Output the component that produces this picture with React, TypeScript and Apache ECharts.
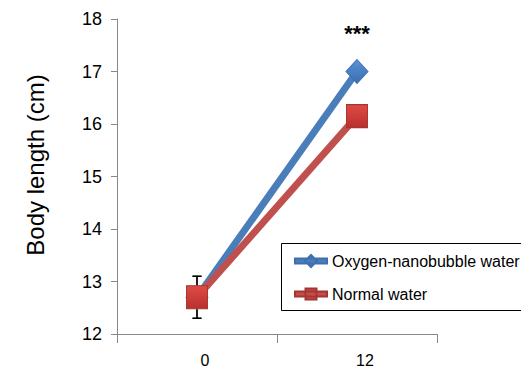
import React, { useEffect, useRef } from "react";
import * as echarts from "echarts";

const categories = ["0", "12"];
const oxygenValues = [12.7, 17.0];
const normalValues = [12.7, 16.15];
const oxygenErrors = [0.4, 0.12];
const normalErrors = [0.4, 0.12];
const yTicks = { min: 12, max: 18, interval: 1 };
const seriesNames = ["Oxygen-nanobubble water", "Normal water"];
const significance = ["", "***"];
const yTitle = "Body length (cm)";

const BLUE = "#4a7ebb";
const RED = "#c0504d";
const FONT = "Liberation Sans, Arial, sans-serif";

const ICON_DIAMOND = "path://M0 3.5H32V8.5H0Z M16 0L22 6L16 12L10 6Z";
const ICON_SQUARE = "path://M0 3.5H32V8.5H0Z M10.5 0.5H21.5V11.5H10.5Z";

export default function App() {
  const ref = useRef<HTMLDivElement>(null);
  useEffect(() => {
    document.body.style.margin = "0";
    const chart = echarts.init(ref.current!, undefined, { renderer: "svg" });
    const errData: any[] = [];
    categories.forEach((c, i) => {
      errData.push([i, oxygenValues[i], oxygenErrors[i]]);
      errData.push([i, normalValues[i], normalErrors[i]]);
    });
    chart.setOption({
      animation: false,
      backgroundColor: "#fff",
      textStyle: { fontFamily: FONT },
      grid: { left: 117, right: 84, top: 19, bottom: 36 },
      graphic: [
        {
          type: "text",
          x: 35,
          y: 165,
          rotation: Math.PI / 2,
          style: {
            text: yTitle,
            fontSize: 24,
            fontFamily: FONT,
            fill: "#000",
            textAlign: "center",
            textVerticalAlign: "middle",
          },
        },
        {
          type: "rect",
          z: 10,
          shape: { x: 281.5, y: 243.5, width: 300, height: 67 },
          style: { fill: "none", stroke: "#000", lineWidth: 1 },
        },
      ],
      legend: {
        left: 281,
        top: 243,
        orient: "vertical",
        padding: [10, 0, 8, 13],
        itemGap: 17,
        itemWidth: 32,
        itemHeight: 12,
        textStyle: { fontSize: 16, color: "#000", fontFamily: FONT },
        data: [
          { name: seriesNames[0], icon: ICON_DIAMOND, itemStyle: { color: BLUE } },
          { name: seriesNames[1], icon: ICON_SQUARE, itemStyle: { color: RED } },
        ],
      },
      xAxis: {
        type: "category",
        data: categories,
        boundaryGap: true,
        axisLine: { lineStyle: { color: "#888", width: 1 } },
        axisTick: { show: true, length: 9, lineStyle: { color: "#888" } },
        axisLabel: { fontSize: 16, color: "#000", margin: 18, padding: [0, 0, 0, 16] },
      },
      yAxis: {
        type: "value",
        min: yTicks.min,
        max: yTicks.max,
        interval: yTicks.interval,
        axisLine: { show: true, lineStyle: { color: "#888", width: 1 } },
        axisTick: { show: true, length: 6, lineStyle: { color: "#888" } },
        splitLine: { show: false },
        axisLabel: { fontSize: 18, color: "#000", margin: 15 },
      },
      series: [
        {
          type: "custom",
          z: 1,
          silent: true,
          data: errData,
          renderItem: (params: any, api: any) => {
            const x = api.value(0);
            const v = api.value(1);
            const e = api.value(2);
            const top = api.coord([x, v + e]);
            const bot = api.coord([x, v - e]);
            const hw = 4.5;
            const st = { stroke: "#000", lineWidth: 1.3 };
            return {
              type: "group",
              children: [
                { type: "line", shape: { x1: top[0], y1: top[1], x2: bot[0], y2: bot[1] }, style: st },
                { type: "line", shape: { x1: top[0] - hw, y1: top[1], x2: top[0] + hw, y2: top[1] }, style: st },
                { type: "line", shape: { x1: bot[0] - hw, y1: bot[1], x2: bot[0] + hw, y2: bot[1] }, style: st },
              ],
            };
          },
        },
        {
          name: seriesNames[0],
          type: "line",
          z: 3,
          data: oxygenValues.map((v, i) => ({
            value: v,
            label: significance[i]
              ? {
                  show: true,
                  formatter: significance[i],
                  position: "top",
                  distance: 14,
                  fontSize: 22,
                  fontWeight: "bold",
                  color: "#000",
                }
              : { show: false },
          })),
          symbol: "diamond",
          symbolSize: [22, 24],
          lineStyle: { color: BLUE, width: 7 },
          itemStyle: {
            color: new echarts.graphic.LinearGradient(0, 0, 0, 1, [
              { offset: 0, color: "#5b93d6" },
              { offset: 1, color: "#3a6db0" },
            ]),
            borderColor: "#3f70ad",
            borderWidth: 1,
          },
          color: BLUE,
        },
        {
          name: seriesNames[1],
          type: "line",
          z: 4,
          data: normalValues,
          symbol: "rect",
          symbolSize: [21, 23],
          lineStyle: { color: RED, width: 7 },
          itemStyle: {
            color: new echarts.graphic.LinearGradient(0, 0, 0, 1, [
              { offset: 0, color: "#e04b46" },
              { offset: 1, color: "#b8302c" },
            ]),
            borderColor: "#a83430",
            borderWidth: 1,
          },
          color: RED,
        },
      ],
    });
    return () => chart.dispose();
  }, []);
  return <div ref={ref} style={{ position: "fixed", left: 0, top: 0, width: 521, height: 370 }} />;
}
